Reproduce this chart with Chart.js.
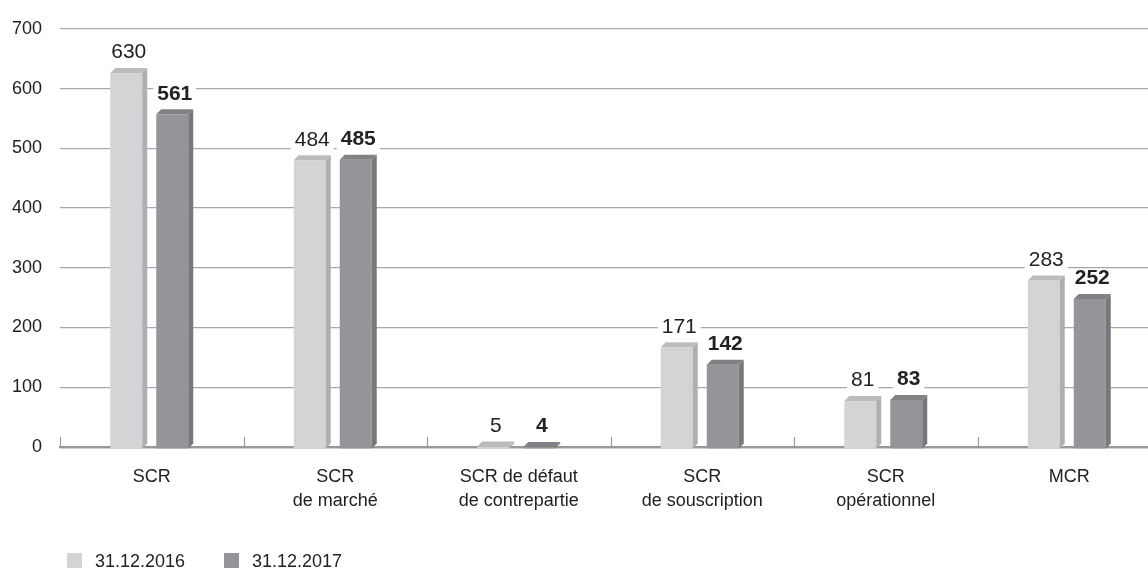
<!DOCTYPE html>
<html lang="fr">
<head>
<meta charset="utf-8">
<title>SCR et MCR</title>
<script src="https://cdn.jsdelivr.net/npm/chart.js@4/dist/chart.umd.min.js"></script>
<style>
  html, body { margin: 0; padding: 0; background: #fff; overflow: hidden; }
  #wrap { position: relative; width: 1161px; height: 569px; }
  .legend-item {
    position: absolute; top: 553px; height: 15px;
    font: 18px "Liberation Sans", Arial, Helvetica, sans-serif; color: #222;
    line-height: 16px; white-space: nowrap;
  }
  .legend-item i {
    display: inline-block; width: 15px; height: 15px; vertical-align: top;
    margin-right: 13px;
  }
</style>
</head>
<body>
<div id="wrap">
  <canvas id="chart" width="1161" height="569"></canvas>
  <div id="legend"></div>
</div>
<script>
// ---------------------------------------------------------------------------
// Data
// ---------------------------------------------------------------------------
const categories = [
  'SCR',
  ['SCR', 'de marché'],
  ['SCR de défaut', 'de contrepartie'],
  ['SCR', 'de souscription'],
  ['SCR', 'opérationnel'],
  'MCR',
];
const seriesNames = ['31.12.2016', '31.12.2017'];
const values2016 = [630, 484, 5, 171, 81, 283];
const values2017 = [561, 485, 4, 142, 83, 252];
const yTicks = [0, 100, 200, 300, 400, 500, 600, 700];

const FONT = '"Liberation Sans", Arial, Helvetica, sans-serif';
const TEXT = '#222';
const DEPTH = 5; // pseudo-3D offset of the bars

Chart.defaults.font.family = FONT;
Chart.defaults.color = TEXT;

// Bars drawn as front + side + top faces from the element geometry
const bars3d = {
  id: 'bars3d',
  beforeDatasetDraw(chart, args) {
    const ds = chart.data.datasets[args.index];
    const ctx = chart.ctx;
    const h = DEPTH / 2;
    ctx.save();
    args.meta.data.forEach((bar) => {
      const { x, y, base, width } = bar.getProps(['x', 'y', 'base', 'width'], true);
      const l = x - width / 2;
      const r = x + width / 2 - DEPTH;
      const top = y + h;
      const bot = base + h;

      ctx.fillStyle = ds.backgroundColor;
      ctx.fillRect(l, top, r - l, bot - top);

      ctx.fillStyle = ds.sideColor;
      ctx.beginPath();
      ctx.moveTo(r, top);
      ctx.lineTo(r + DEPTH, top - DEPTH);
      ctx.lineTo(r + DEPTH, bot - DEPTH);
      ctx.lineTo(r, bot);
      ctx.closePath();
      ctx.fill();

      ctx.fillStyle = ds.topColor;
      ctx.beginPath();
      ctx.moveTo(l, top);
      ctx.lineTo(l + DEPTH, top - DEPTH);
      ctx.lineTo(r + DEPTH, top - DEPTH);
      ctx.lineTo(r, top);
      ctx.closePath();
      ctx.fill();
    });
    ctx.restore();
    return false;
  },
};

// Short marks on the zero line at each category boundary
const categoryTicks = {
  id: 'categoryTicks',
  beforeDatasetsDraw(chart) {
    const xs = chart.scales.x;
    const area = chart.chartArea;
    const ctx = chart.ctx;
    const n = xs.ticks.length;
    const step = (xs.right - xs.left) / n;
    ctx.save();
    ctx.strokeStyle = '#9c9c9c';
    ctx.lineWidth = 1.2;
    for (let i = 0; i <= n; i++) {
      const px = Math.round(xs.left + step * i) + 0.5;
      ctx.beginPath();
      ctx.moveTo(px, area.bottom);
      ctx.lineTo(px, area.bottom - 10);
      ctx.stroke();
    }
    ctx.restore();
  },
};

// Value labels above the bars, on a white patch over the gridlines
const valueLabels = {
  id: 'valueLabels',
  afterDatasetsDraw(chart) {
    const ctx = chart.ctx;
    ctx.save();
    ctx.textAlign = 'center';
    ctx.textBaseline = 'middle';
    chart.data.datasets.forEach((ds, i) => {
      const meta = chart.getDatasetMeta(i);
      ctx.font = `${ds.labelWeight} 21px ${FONT}`;
      meta.data.forEach((bar, j) => {
        const txt = String(ds.data[j]);
        const w = ctx.measureText(txt).width;
        const cy = bar.y - 17;
        ctx.fillStyle = '#fff';
        ctx.fillRect(bar.x - w / 2 - 4, cy - 10, w + 8, 20);
        ctx.fillStyle = TEXT;
        ctx.fillText(txt, bar.x, cy - 1);
      });
    });
    ctx.restore();
  },
};

const datasets = [
  {
    label: seriesNames[0],
    data: values2016,
    backgroundColor: '#d3d4d6',
    sideColor: '#aeafb1',
    topColor: '#bbbcbe',
    labelWeight: 'normal',
  },
  {
    label: seriesNames[1],
    data: values2017,
    backgroundColor: '#939598',
    sideColor: '#77787b',
    topColor: '#808184',
    labelWeight: 'bold',
  },
];
datasets.forEach((d) => {
  d.categoryPercentage = 0.5014;
  d.barPercentage = 0.804;
});

new Chart(document.getElementById('chart'), {
  type: 'bar',
  data: { labels: categories, datasets },
  options: {
    responsive: false,
    animation: false,
    layout: { padding: { top: 25, left: 0, right: 0, bottom: 0 } },
    plugins: {
      legend: { display: false },
      tooltip: { enabled: false },
    },
    scales: {
      x: {
        grid: { display: false, drawTicks: false },
        border: { display: true, color: '#999', width: 2.2 },
        ticks: {
          font: { size: 18, lineHeight: 1.28 },
          color: TEXT,
          padding: 19,
          maxRotation: 0,
          autoSkip: false,
        },
        afterFit: (s) => { s.height = 122; },
      },
      y: {
        min: yTicks[0],
        max: yTicks[yTicks.length - 1],
        afterBuildTicks: (s) => { s.ticks = yTicks.map((v) => ({ value: v })); },
        grid: {
          drawTicks: false,
          color: (c) => (c.tick && c.tick.value === 0 ? '#999' : '#a8a8a8'),
          lineWidth: (c) => (c.tick && c.tick.value === 0 ? 2.2 : 1.3),
        },
        border: { display: false },
        ticks: { font: { size: 18 }, color: TEXT, padding: 18 },
        afterFit: (s) => { s.width = 60; },
      },
    },
  },
  plugins: [bars3d, categoryTicks, valueLabels],
});

// HTML legend
const legendLeft = [67, 224];
const legend = document.getElementById('legend');
datasets.forEach((d, i) => {
  const item = document.createElement('div');
  item.className = 'legend-item';
  item.style.left = legendLeft[i] + 'px';
  item.innerHTML = `<i style="background:${d.backgroundColor}"></i>${d.label}`;
  legend.appendChild(item);
});
</script>
</body>
</html>
